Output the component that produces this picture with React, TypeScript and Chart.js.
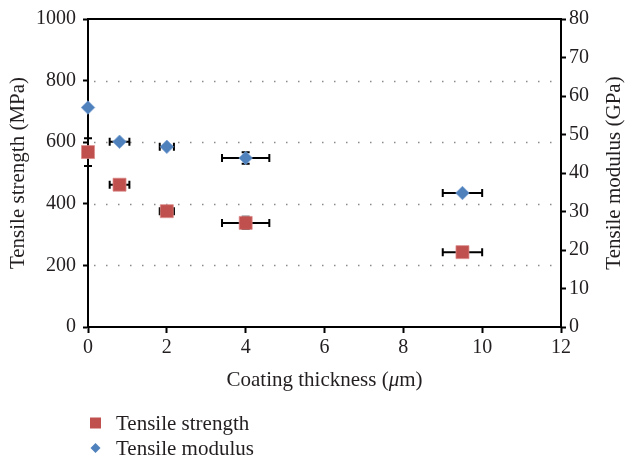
import React, { useEffect, useRef } from "react";
import { Chart, registerables } from "chart.js";

Chart.register(...registerables);

const thickness = [0, 0.8, 2, 4, 9.5];
const strength = [568, 462, 376, 338, 243];
const strengthXErr = [0, 0.25, 0.18, 0.6, 0.5];
const strengthYErr = [45, 10, 10, 20, 0];
const modulus = [57, 48.1, 46.8, 43.9, 34.8];
const modulusXErr = [0, 0.25, 0.18, 0.6, 0.5];
const modulusYErr = [0, 0, 0, 1.5, 0];
const gridValues = [200, 400, 600, 800];
const seriesNames = ["Tensile strength", "Tensile modulus"];
const seriesColors = ["#C0504D", "#4F81BD"];
const xTitleParts = ["Coating thickness (", "\u03bc", "m)"];
const yTitle = "Tensile strength (MPa)";
const y1Title = "Tensile modulus (GPa)";

const FONT = "'Liberation Serif', 'Times New Roman', serif";
const TEXT = "#231f20";

const errorBarPlugin = {
  id: "errorBars",
  beforeDatasetsDraw(chart: any) {
    const { ctx, chartArea } = chart;
    const xs = chart.scales.x;
    const ys = chart.scales.y;
    ctx.save();
    ctx.strokeStyle = "#8a8a8a";
    ctx.lineWidth = 1.5;
    ctx.setLineDash([1.5, 10.5]);
    gridValues.forEach((v) => {
      const py = Math.round(ys.getPixelForValue(v)) + 0.5;
      ctx.beginPath();
      ctx.moveTo(chartArea.left + 6, py);
      ctx.lineTo(chartArea.right, py);
      ctx.stroke();
    });
    ctx.restore();

    const sets = [
      { vals: strength, xe: strengthXErr, ye: strengthYErr, scale: ys },
      { vals: modulus, xe: modulusXErr, ye: modulusYErr, scale: chart.scales.y1 },
    ];
    ctx.save();
    ctx.strokeStyle = "#000";
    ctx.lineWidth = 2;
    const cap = 4;
    sets.forEach((s) => {
      thickness.forEach((x, i) => {
        const py = s.scale.getPixelForValue(s.vals[i]);
        const px = xs.getPixelForValue(x);
        if (s.xe[i] > 0) {
          const x1 = xs.getPixelForValue(x - s.xe[i]);
          const x2 = xs.getPixelForValue(x + s.xe[i]);
          ctx.beginPath();
          ctx.moveTo(x1, py);
          ctx.lineTo(x2, py);
          ctx.moveTo(x1, py - cap);
          ctx.lineTo(x1, py + cap);
          ctx.moveTo(x2, py - cap);
          ctx.lineTo(x2, py + cap);
          ctx.stroke();
        }
        if (s.ye[i] > 0) {
          const y1 = s.scale.getPixelForValue(s.vals[i] - s.ye[i]);
          const y2 = s.scale.getPixelForValue(s.vals[i] + s.ye[i]);
          ctx.beginPath();
          ctx.moveTo(px, y1);
          ctx.lineTo(px, y2);
          ctx.moveTo(px - cap, y1);
          ctx.lineTo(px + cap, y1);
          ctx.moveTo(px - cap, y2);
          ctx.lineTo(px + cap, y2);
          ctx.stroke();
        }
      });
    });
    ctx.restore();
  },
  afterDraw(chart: any) {
    const { ctx, chartArea } = chart;
    ctx.save();
    ctx.strokeStyle = "#000";
    ctx.lineWidth = 2;
    ctx.beginPath();
    ctx.moveTo(chartArea.left - 1, chartArea.top);
    ctx.lineTo(chartArea.right + 1, chartArea.top);
    ctx.stroke();

    ctx.fillStyle = TEXT;
    ctx.textBaseline = "middle";
    // x title with italic mu
    const normal = `21px ${FONT}`;
    const italic = `italic 21px ${FONT}`;
    ctx.font = normal;
    const w0 = ctx.measureText(xTitleParts[0]).width;
    const w2 = ctx.measureText(xTitleParts[2]).width;
    ctx.font = italic;
    const w1 = ctx.measureText(xTitleParts[1]).width;
    const cx = (chartArea.left + chartArea.right) / 2;
    let tx = cx - (w0 + w1 + w2) / 2;
    const ty = 380;
    ctx.textAlign = "left";
    ctx.font = normal;
    ctx.fillText(xTitleParts[0], tx, ty);
    tx += w0;
    ctx.font = italic;
    ctx.fillText(xTitleParts[1], tx, ty);
    tx += w1;
    ctx.font = normal;
    ctx.fillText(xTitleParts[2], tx, ty);

    // y titles rotated bottom-to-top
    const cy = (chartArea.top + chartArea.bottom) / 2;
    ctx.textAlign = "center";
    ctx.font = normal;
    ctx.save();
    ctx.translate(18, cy);
    ctx.rotate(-Math.PI / 2);
    ctx.fillText(yTitle, 0, 0);
    ctx.restore();
    ctx.save();
    ctx.translate(614, cy);
    ctx.rotate(-Math.PI / 2);
    ctx.fillText(y1Title, 0, 0);
    ctx.restore();

    // legend
    ctx.textAlign = "left";
    const rows = [423, 448];
    ctx.fillStyle = seriesColors[0];
    ctx.fillRect(90, rows[0] - 5.5, 11, 11);
    ctx.fillStyle = seriesColors[1];
    ctx.beginPath();
    ctx.moveTo(95.5, rows[1] - 5);
    ctx.lineTo(100.5, rows[1]);
    ctx.lineTo(95.5, rows[1] + 5);
    ctx.lineTo(90.5, rows[1]);
    ctx.closePath();
    ctx.fill();
    ctx.fillStyle = TEXT;
    ctx.font = normal;
    ctx.fillText(seriesNames[0], 116, rows[0] + 1);
    ctx.fillText(seriesNames[1], 116, rows[1] + 1);
    ctx.restore();
  },
};

export default function App() {
  const ref = useRef<HTMLCanvasElement>(null);
  useEffect(() => {
    if (!ref.current) return;
    const tickFont = { family: FONT, size: 20 };
    const plain = (v: any) => String(v);
    const chart = new Chart(ref.current, {
      type: "scatter",
      data: {
        datasets: [
          {
            label: seriesNames[0],
            data: thickness.map((x, i) => ({ x, y: strength[i] })),
            yAxisID: "y",
            pointStyle: "rect",
            pointRadius: 9.2,
            pointHoverRadius: 9.2,
            backgroundColor: seriesColors[0],
            borderColor: "rgba(220,140,140,0.9)",
            borderWidth: 0.8,
            clip: false,
          },
          {
            label: seriesNames[1],
            data: thickness.map((x, i) => ({ x, y: modulus[i] })),
            yAxisID: "y1",
            pointStyle: "rectRot",
            pointRadius: 6.8,
            pointHoverRadius: 6.8,
            backgroundColor: seriesColors[1],
            borderColor: "rgba(120,160,210,0.9)",
            borderWidth: 0.8,
            clip: false,
          },
        ],
      },
      options: {
        animation: false,
        responsive: false,
        maintainAspectRatio: false,
        layout: { padding: { top: 14, bottom: 68, left: 0, right: 0 } },
        plugins: {
          legend: { display: false },
          tooltip: { enabled: false },
        },
        scales: {
          x: {
            type: "linear",
            min: 0,
            max: 12,
            ticks: { stepSize: 2, font: tickFont, color: TEXT, padding: 3, maxRotation: 0, callback: plain },
            grid: { drawOnChartArea: false, drawTicks: true, tickLength: 6, tickColor: "#000", tickWidth: 2 },
            border: { color: "#000", width: 2 },
            afterFit: (s: any) => {
              s.height = 65;
            },
          },
          y: {
            type: "linear",
            position: "left",
            min: 0,
            max: 1000,
            ticks: { stepSize: 200, font: tickFont, color: TEXT, padding: 7, callback: plain },
            grid: { drawOnChartArea: false, drawTicks: true, tickLength: 5, tickColor: "#000", tickWidth: 2 },
            border: { color: "#000", width: 2 },
            afterFit: (s: any) => {
              s.width = 88;
            },
          },
          y1: {
            type: "linear",
            position: "right",
            min: 0,
            max: 80,
            ticks: { stepSize: 10, font: tickFont, color: TEXT, padding: 3, callback: plain },
            grid: { drawOnChartArea: false, drawTicks: true, tickLength: 5, tickColor: "#000", tickWidth: 2 },
            border: { color: "#000", width: 2 },
            afterFit: (s: any) => {
              s.width = 69;
            },
          },
        },
      } as any,
      plugins: [errorBarPlugin],
    });
    return () => chart.destroy();
  }, []);
  return (
    <div style={{ position: "fixed", left: 0, top: 0, width: 630, height: 460, background: "#fff" }}>
      <canvas ref={ref} width={630} height={460} style={{ display: "block", width: 630, height: 460 }} />
    </div>
  );
}
